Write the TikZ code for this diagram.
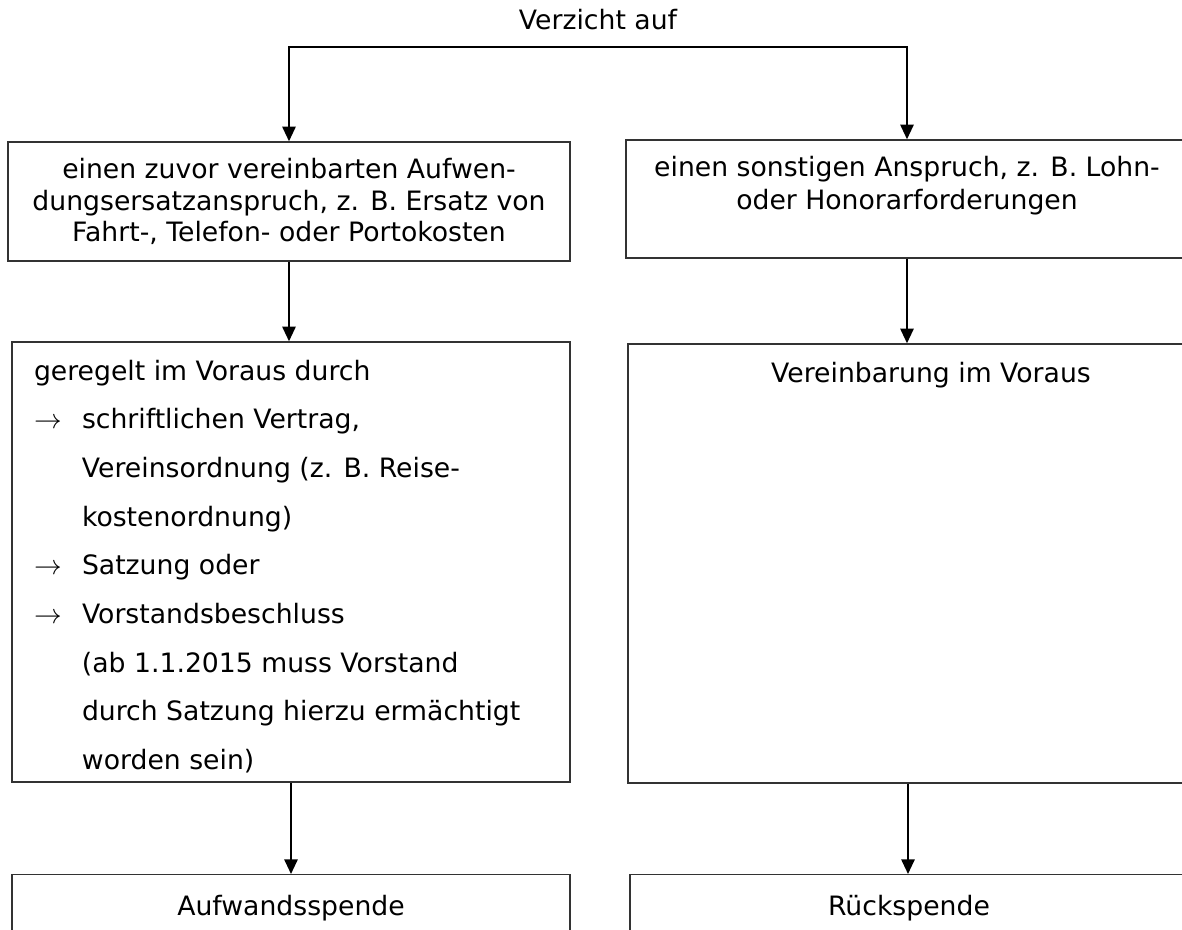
\documentclass[tikz,border=0pt]{standalone}
\usepackage{fontspec}
\setmainfont{DejaVu Sans}
\usepackage{tikz}
\usetikzlibrary{arrows.meta}
\usetikzlibrary{calc}

\begin{document}
\begin{tikzpicture}[x=0.75pt, y=-0.75pt,
    flowbox/.style={draw=black!80, line width=1.1pt, inner sep=0pt,
      font=\fontsize{20}{23.8}\selectfont},
    flowarrow/.style={-{Triangle[length=11pt,width=10pt]}, line width=1.4pt}]
    % Page frame
    \useasboundingbox (0,0) rectangle (1182,930);
    \clip (0,0) rectangle (1182,930);

    % Heading
    \node[anchor=base, font=\fontsize{20}{24}\selectfont] (verzicht) at (598,30) {Verzicht auf};

    % First row: the two kinds of claims
    \node[flowbox, minimum width=421.5pt, minimum height=89.25pt, align=center] (aufwand) at (289,201.5)
      {einen zuvor vereinbarten Aufwen-\\dungsersatzanspruch, z. B. Ersatz von\\Fahrt-, Telefon- oder Portokosten};
    \node[flowbox, minimum width=421.5pt, minimum height=88.5pt, inner ysep=12pt] (sonstig) at (907,199)
      {\parbox[c][64.5pt][t]{421.5pt}{\centering\baselineskip=24.75pt
        einen sonstigen Anspruch, z. B. Lohn-\\oder Honorarforderungen}};

    % Second row: how it is agreed
    \node[flowbox, minimum width=418.5pt, minimum height=330pt, inner xsep=16.5pt, inner ysep=13.5pt] (geregelt) at (291,562)
      {\parbox[c][303pt][t]{385.5pt}{\raggedright\baselineskip=36.5pt
        geregelt im Voraus durch\\
        \makebox[36pt][l]{$\rightarrow$}schriftlichen Vertrag,\\
        \hspace*{36pt}Vereinsordnung (z. B. Reise-\\
        \hspace*{36pt}kostenordnung)\\
        \makebox[36pt][l]{$\rightarrow$}Satzung oder\\
        \makebox[36pt][l]{$\rightarrow$}Vorstandsbeschluss\\
        \hspace*{36pt}(ab 1.1.2015 muss Vorstand\\
        \hspace*{36pt}durch Satzung hierzu ermächtigt\\
        \hspace*{36pt}worden sein)}};
    \node[flowbox, minimum width=420pt, minimum height=329.25pt, inner ysep=13.5pt] (vereinb) at (908,563.5)
      {\parbox[c][302.25pt][t]{420pt}{\centering\hspace*{34.5pt}Vereinbarung im Voraus}};

    % Third row: kind of donation
    \node[flowbox, anchor=north, minimum width=418.5pt, inner ysep=15.75pt] (aufwspende) at (291,874) {Aufwandsspende};
    \node[flowbox, anchor=north, minimum width=418.5pt, inner ysep=15.75pt] (rueckspende) at (909,874) {Rückspende};

    % Connectors
    \coordinate (split) at (598,47);
    \draw[flowarrow] (split) -| (aufwand.north);
    \draw[flowarrow] (split) -| (sonstig.north);
    \draw[flowarrow] (aufwand.south) -- (aufwand.south |- geregelt.north);
    \draw[flowarrow] (sonstig.south) -- (sonstig.south |- vereinb.north);
    \draw[flowarrow] (geregelt.south) -- (geregelt.south |- aufwspende.north);
    \draw[flowarrow] (vereinb.south) -- (vereinb.south |- rueckspende.north);
\end{tikzpicture}
\end{document}
